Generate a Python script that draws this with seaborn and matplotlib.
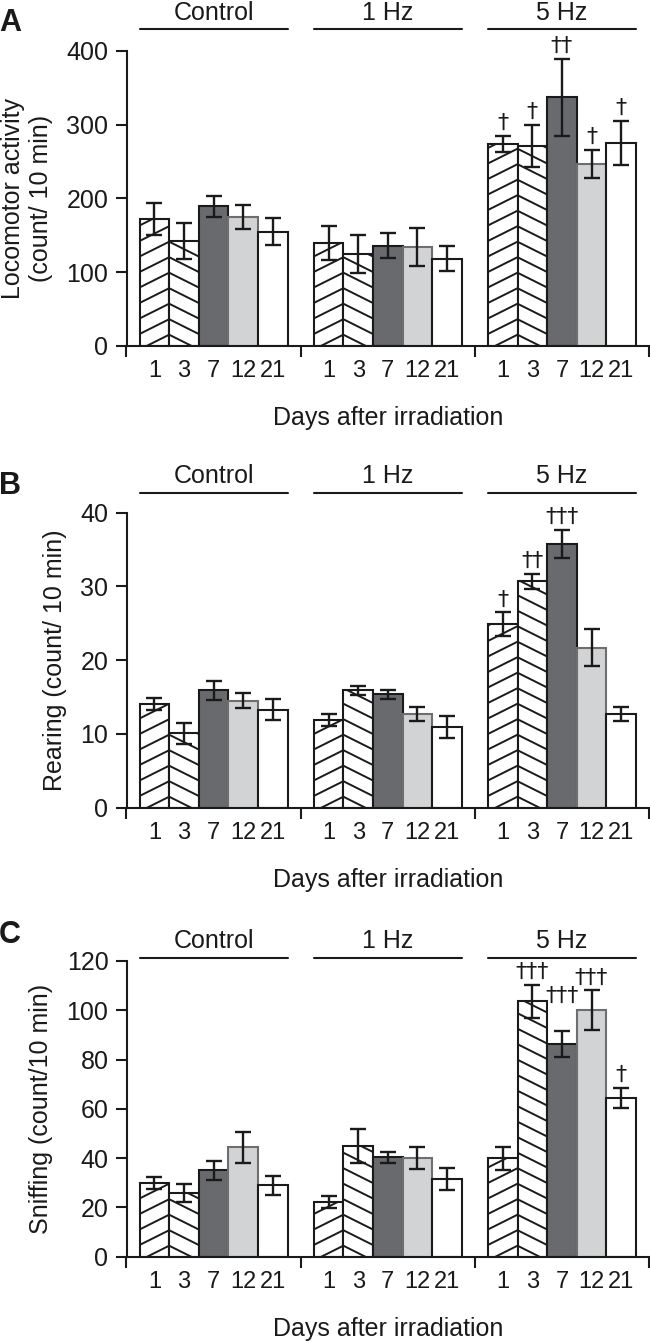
import numpy as np
import pandas as pd
import seaborn as sns
import matplotlib.pyplot as plt

# ---- data ----
groups = ['Control', '1 Hz', '5 Hz']
days = ['1', '3', '7', '12', '21']

loco_mean = [[172, 142, 189, 175, 155],
             [139, 124, 136, 134, 118],
             [274, 271, 337, 247, 275]]
loco_err = [[22, 24, 14, 16, 18],
            [23, 26, 17, 26, 17],
            [11, 29, 52, 19, 30]]
loco_marks = [['', '', '', '', ''],
              ['', '', '', '', ''],
              ['†', '†', '††', '†', '†']]

rear_mean = [[14.1, 10.1, 15.9, 14.5, 13.3],
             [11.9, 15.9, 15.4, 12.7, 10.9],
             [24.9, 30.7, 35.8, 21.7, 12.7]]
rear_err = [[0.8, 1.4, 1.3, 1.0, 1.4],
            [0.8, 0.6, 0.6, 1.0, 1.5],
            [1.6, 1.0, 1.9, 2.5, 1.0]]
rear_marks = [['', '', '', '', ''],
              ['', '', '', '', ''],
              ['†', '††', '†††', '', '']]

sniff_mean = [[29.8, 25.8, 35.0, 44.4, 28.9],
              [22.2, 45.0, 40.3, 40.0, 31.5],
              [39.9, 103.6, 86.4, 100.1, 64.5]]
sniff_err = [[2.4, 3.7, 3.8, 6.2, 3.7],
             [2.4, 6.8, 2.2, 4.5, 4.5],
             [4.6, 6.6, 5.3, 8.0, 4.1]]
sniff_marks = [['', '', '', '', ''],
               ['', '', '', '', ''],
               ['', '†††', '†††', '†††', '†']]

# ---- styling ----
face_colors = ['white', 'white', '#696a6e', '#d1d3d4', 'white']
edge_colors = ['#1a1a1a', '#1a1a1a', '#1a1a1a', '#6e6e6e', '#1a1a1a']
INK = '#1a1a1a'
FS = 18

sns.set_style('ticks')
plt.rcParams['font.family'] = ['Liberation Sans', 'DejaVu Sans']
plt.rcParams['axes.linewidth'] = 1.5
plt.rcParams['text.color'] = INK
plt.rcParams['axes.edgecolor'] = INK
plt.rcParams['xtick.color'] = INK
plt.rcParams['ytick.color'] = INK

W, H = 650, 1342
fig = plt.figure(figsize=(W / 100, H / 100), dpi=100)

HATCH_STEP = 15.5   # px between chevron lines
HATCH_START = 11.0  # px above the base for the first apex


def add_chevron(ax, bar, rising):
    x0 = bar.get_x()
    x1 = x0 + bar.get_width()
    (px0, py0), (px1, py1) = ax.transData.transform([(x0, 0), (x1, bar.get_height())])
    drop = (px1 - px0) * 0.5
    inv = ax.transData.inverted()
    for k in np.arange(-2, (py1 - py0) / HATCH_STEP + 3):
        y = py0 + HATCH_START + k * HATCH_STEP
        if rising:
            pts = [(px0, y - drop), (px1, y)]
        else:
            pts = [(px0, y), (px1, y - drop)]
        d = inv.transform(pts)
        ln, = ax.plot(d[:, 0], d[:, 1], color=INK, lw=1.4, zorder=1.5,
                      solid_capstyle='butt')
        ln.set_clip_path(bar)


panels = [
    dict(letter='A', mean=loco_mean, err=loco_err, marks=loco_marks,
         ylim=400, step=100, label='Locomotor activity\n(count/ 10 min)',
         top_px=51, bottom_px=345.7, lab_x=-0.190, line_y=1.0747, text_y=1.105,
         letter_y=23, lift={}),
    dict(letter='B', mean=rear_mean, err=rear_err, marks=rear_marks,
         ylim=40, step=10, label='Rearing (count/ 10 min)',
         top_px=512.7, bottom_px=807.7, lab_x=-0.137, line_y=1.0668, text_y=1.1007,
         letter_y=486, lift={}),
    dict(letter='C', mean=sniff_mean, err=sniff_err, marks=sniff_marks,
         ylim=120, step=20, label='Sniffing (count/10 min)',
         top_px=961, bottom_px=1256.7, lab_x=-0.164, line_y=1.010, text_y=1.044,
         letter_y=935, lift={(2, 2): 16}),
]

left_px, right_px = 126.5, 649

for p in panels:
    rect = [left_px / W, 1 - p['bottom_px'] / H, (right_px - left_px) / W,
            (p['bottom_px'] - p['top_px']) / H]
    ax = fig.add_axes(rect)

    mean = np.array(p['mean'])
    err = np.array(p['err'])
    df = pd.DataFrame({
        'group': np.repeat(groups, len(days)),
        'day': days * len(groups),
        'value': mean.ravel(),
    })
    sns.barplot(data=df, x='group', y='value', hue='day', order=groups,
                hue_order=days, palette=dict(zip(days, face_colors)),
                saturation=1, width=0.85, errorbar=None, legend=False,
                linewidth=1.5, edgecolor=INK, ax=ax)
    bar_sets = list(ax.containers)

    ax.set_xlim(-0.5, 2.5)
    ax.set_ylim(0, p['ylim'])

    centers = []
    for j, cont in enumerate(bar_sets):
        for bar in cont:
            bar.set_edgecolor(edge_colors[j])
            bar.set_zorder(1)
        if j in (0, 1):
            for bar in cont:
                add_chevron(ax, bar, rising=(j == 0))
        xs = [b.get_x() + b.get_width() / 2 for b in cont]
        centers.append(xs)
        ax.errorbar(xs, mean[:, j], yerr=err[:, j], fmt='none', ecolor=INK,
                    elinewidth=1.7, capsize=5.5, capthick=1.7, zorder=3)
        for g, x in enumerate(xs):
            mk = p['marks'][g][j]
            if mk:
                ax.annotate(mk, xy=(x, mean[g, j] + err[g, j]),
                            xytext=(0, 2 + p['lift'].get((g, j), 0)),
                            textcoords='offset points', ha='center',
                            va='bottom', fontsize=16, color=INK,
                            family=['DejaVu Sans'])

    # x axis: boundary ticks + day labels under each bar
    ax.set_xticks([-0.5, 0.5, 1.5, 2.5], labels=[])
    minor_x = [x for g in range(len(groups)) for x in [c[g] for c in centers]]
    ax.set_xticks(minor_x, labels=days * len(groups), minor=True)
    ax.tick_params(axis='x', which='major', length=8, width=1.5, direction='out')
    ax.tick_params(axis='x', which='minor', length=0, pad=10, labelsize=17)
    ax.set_yticks(np.arange(0, p['ylim'] + 1, p['step']))
    ax.tick_params(axis='y', length=8, width=1.5, pad=5, labelsize=FS)
    ax.set(xlabel='', ylabel='')
    sns.despine(ax=ax)

    ax.text(p['lab_x'], 0.5, p['label'], transform=ax.transAxes, rotation=90,
            ha='center', va='center', fontsize=FS, linespacing=1.2)
    ax.text(0.5, -0.269, 'Days after irradiation', transform=ax.transAxes,
            ha='center', va='baseline', fontsize=FS)

    # group headers with lines spanning each group's bars
    trans = ax.get_xaxis_transform()
    for g, name in enumerate(groups):
        lo = bar_sets[0][g].get_x()
        hi = bar_sets[-1][g].get_x() + bar_sets[-1][g].get_width()
        ax.plot([lo, hi], [p['line_y'], p['line_y']], transform=trans,
                color=INK, lw=1.5, clip_on=False)
        ax.text((lo + hi) / 2, p['text_y'], name, transform=trans,
                ha='center', va='baseline', fontsize=FS)

    fig.text(10 / W, 1 - p['letter_y'] / H, p['letter'], fontsize=22,
             fontweight='bold', ha='center', va='center')

fig.savefig('out.png', dpi=100, facecolor='white')
